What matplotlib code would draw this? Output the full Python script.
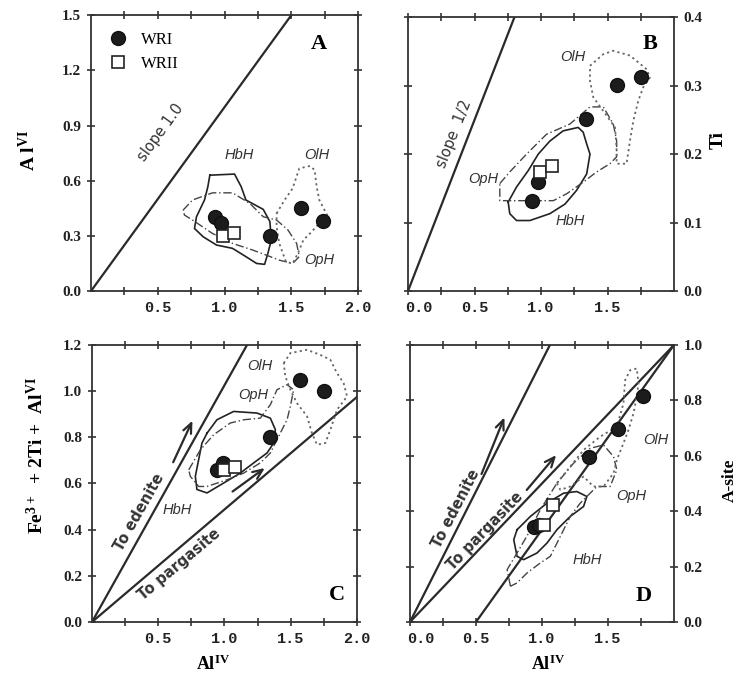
import numpy as np
import matplotlib
matplotlib.use('Agg')
import matplotlib.pyplot as plt
from matplotlib.transforms import ScaledTranslation

plt.rcParams['font.family'] = ['Liberation Serif', 'DejaVu Serif']
plt.rcParams['mathtext.fontset'] = 'custom'
plt.rcParams['mathtext.rm'] = 'Liberation Serif:bold'
plt.rcParams['mathtext.bf'] = 'Liberation Serif:bold'
plt.rcParams['mathtext.default'] = 'rm'
plt.rcParams['axes.linewidth'] = 1.3

# ---- data ----
# panel A: Al(IV) vs Al(VI)
wr1_a_x = [0.93, 0.975, 1.34, 1.57, 1.74]
wr1_a_y = [0.40, 0.37, 0.30, 0.45, 0.38]
wr2_a_x = [0.99, 1.07]
wr2_a_y = [0.30, 0.315]
hbh_a = [(0.89, 0.63), (1.075, 0.636), (1.125, 0.567), (1.16, 0.495), (1.29, 0.444),
         (1.34, 0.377), (1.35, 0.277), (1.325, 0.205), (1.30, 0.145), (1.24, 0.15),
         (1.16, 0.187), (1.06, 0.232), (0.94, 0.25), (0.84, 0.295), (0.775, 0.34),
         (0.79, 0.404), (0.85, 0.495), (0.875, 0.567)]
oph_a = [(0.69, 0.44), (0.76, 0.495), (0.91, 0.534), (1.06, 0.534), (1.19, 0.476),
         (1.29, 0.404), (1.39, 0.386), (1.475, 0.332), (1.54, 0.259), (1.56, 0.187),
         (1.51, 0.15), (1.41, 0.168), (1.31, 0.196), (1.21, 0.223), (1.06, 0.259),
         (0.91, 0.313), (0.76, 0.386), (0.70, 0.413)]
olh_a = [(1.39, 0.422), (1.45, 0.495), (1.51, 0.558), (1.56, 0.667), (1.64, 0.68),
         (1.675, 0.658), (1.69, 0.567), (1.71, 0.495), (1.775, 0.404), (1.71, 0.368),
         (1.64, 0.313), (1.59, 0.277), (1.55, 0.205), (1.51, 0.15), (1.46, 0.159),
         (1.41, 0.259), (1.39, 0.35)]
slope1_x = [0.0, 1.5]
slope1_y = [0.0, 1.5]

# panel B: Al(IV) vs Ti
wr1_b_x = [0.935, 0.98, 1.34, 1.57, 1.75]
wr1_b_y = [0.132, 0.16, 0.252, 0.301, 0.312]
wr2_b_x = [0.995, 1.085]
wr2_b_y = [0.174, 0.183]
hbh_b = [(0.753, 0.130), (0.816, 0.152), (0.904, 0.176), (0.979, 0.200), (1.066, 0.219),
         (1.166, 0.234), (1.279, 0.239), (1.317, 0.232), (1.343, 0.215), (1.368, 0.200),
         (1.343, 0.171), (1.267, 0.147), (1.18, 0.127), (1.066, 0.113), (0.916, 0.103),
         (0.816, 0.103), (0.765, 0.113)]
oph_b = [(0.69, 0.157), (0.765, 0.174), (0.891, 0.2), (1.041, 0.229), (1.217, 0.244),
         (1.368, 0.269), (1.468, 0.269), (1.543, 0.244), (1.568, 0.22), (1.568, 0.196),
         (1.518, 0.186), (1.418, 0.174), (1.317, 0.159), (1.192, 0.142), (1.092, 0.132),
         (0.941, 0.132), (0.816, 0.132), (0.69, 0.132)]
olh_b = [(1.368, 0.329), (1.468, 0.346), (1.543, 0.351), (1.669, 0.344), (1.794, 0.324),
         (1.819, 0.312), (1.769, 0.298), (1.731, 0.278), (1.694, 0.249), (1.669, 0.22),
         (1.643, 0.186), (1.568, 0.186), (1.568, 0.210), (1.556, 0.239), (1.468, 0.263),
         (1.393, 0.283), (1.368, 0.307)]
slope_half_x = [0.0, 0.8]
slope_half_y = [0.0, 0.4]

# panel C: Al(IV) vs Fe3+ + 2Ti + Al(VI)
wr1_c_x = [0.94, 0.99, 1.345, 1.572, 1.748]
wr1_c_y = [0.66, 0.69, 0.80, 1.05, 1.0]
wr2_c_x = [1.0, 1.08]
wr2_c_y = [0.66, 0.67]
hbh_c = [(0.868, 0.818), (0.943, 0.876), (1.069, 0.912), (1.245, 0.905), (1.346, 0.883),
         (1.384, 0.833), (1.371, 0.775), (1.321, 0.732), (1.220, 0.689), (1.119, 0.645),
         (0.994, 0.602), (0.868, 0.559), (0.792, 0.574), (0.780, 0.631), (0.805, 0.703),
         (0.830, 0.775)]
oph_c = [(0.73, 0.659), (0.818, 0.746), (0.918, 0.811), (1.044, 0.862), (1.145, 0.876),
         (1.27, 0.883), (1.346, 0.941), (1.396, 1.006), (1.472, 1.028), (1.522, 1.006),
         (1.497, 0.934), (1.472, 0.876), (1.421, 0.818), (1.346, 0.732), (1.27, 0.689),
         (1.145, 0.645), (1.019, 0.616), (0.868, 0.587), (0.805, 0.587), (0.742, 0.631)]
olh_c = [(1.447, 1.121), (1.497, 1.165), (1.623, 1.179), (1.723, 1.157), (1.799, 1.136),
         (1.849, 1.078), (1.899, 1.035), (1.925, 0.977), (1.849, 0.919), (1.799, 0.833),
         (1.761, 0.775), (1.698, 0.768), (1.66, 0.818), (1.623, 0.891), (1.547, 0.948),
         (1.497, 1.006), (1.459, 1.064)]
edenite_c_x = [0.0, 1.17]
edenite_c_y = [0.0, 1.2]
pargasite_c_x = [0.0, 2.0]
pargasite_c_y = [0.0, 0.975]

# panel D: Al(IV) vs A-site
wr1_d_x = [0.937, 0.98, 1.353, 1.579, 1.768]
wr1_d_y = [0.343, 0.35, 0.594, 0.697, 0.816]
wr2_d_x = [1.013, 1.083]
wr2_d_y = [0.351, 0.421]
hbh_d = [(0.811, 0.333), (0.912, 0.381), (1.038, 0.429), (1.164, 0.465), (1.264, 0.471),
         (1.340, 0.453), (1.315, 0.417), (1.214, 0.381), (1.113, 0.333), (1.038, 0.285),
         (0.962, 0.249), (0.861, 0.225), (0.811, 0.237), (0.786, 0.297)]
oph_d = [(0.761, 0.129), (0.736, 0.189), (0.811, 0.249), (0.899, 0.321), (0.987, 0.405),
         (1.113, 0.501), (1.239, 0.573), (1.365, 0.627), (1.466, 0.639), (1.542, 0.597),
         (1.567, 0.549), (1.516, 0.489), (1.416, 0.489), (1.365, 0.465), (1.290, 0.429),
         (1.214, 0.381), (1.139, 0.309), (1.063, 0.237), (0.987, 0.213), (0.887, 0.177),
         (0.811, 0.141)]
olh_d = [(1.113, 0.501), (1.214, 0.561), (1.315, 0.621), (1.441, 0.669), (1.567, 0.705),
         (1.617, 0.789), (1.63, 0.873), (1.668, 0.909), (1.718, 0.915), (1.731, 0.861),
         (1.718, 0.813), (1.693, 0.753), (1.655, 0.693), (1.617, 0.645), (1.567, 0.585),
         (1.542, 0.537), (1.466, 0.489), (1.390, 0.489), (1.315, 0.525), (1.214, 0.489),
         (1.139, 0.477)]
edenite_d_x = [0.0, 1.06]
edenite_d_y = [0.0, 1.0]
pargasite_d_x = [0.0, 2.0]
pargasite_d_y = [0.0, 1.0]
third_d_x = [0.5, 2.0]
third_d_y = [0.0, 1.0]

xtick_pos = [0.25, 0.5, 0.75, 1.0, 1.25, 1.5, 1.75, 2.0]
xtick_lab_ac = ['', '0.5', '', '1.0', '', '1.5', '', '2.0']
xtick_pos_bd = [0.0, 0.25, 0.5, 0.75, 1.0, 1.25, 1.5, 1.75]
xtick_lab_bd = ['0.0', '', '0.5', '', '1.0', '', '1.5', '']

LINE = '#2a2a2a'
MONO = {'family': 'Liberation Mono', 'weight': 'bold', 'size': 11}
SANS = ['DejaVu Sans']
ARROW = dict(arrowstyle='->,head_length=0.7,head_width=0.3', lw=1.6, color=LINE)


def draw_poly(ax, pts, ls, color, lw):
    xy = np.array(pts + [pts[0]])
    ax.plot(xy[:, 0], xy[:, 1], linestyle=ls, color=color, linewidth=lw, zorder=2)


def setup(ax, ymax, ystep, xpos, xlab, yright=False):
    ax.set_xlim(0, 2.0)
    ax.set_ylim(0, ymax)
    ax.set_xticks(xpos)
    ax.set_xticklabels(xlab, fontdict=MONO)
    yt = np.round(np.arange(0, ymax + 1e-9, ystep), 2)
    ax.set_yticks(yt)
    ax.set_yticklabels(['%.1f' % v for v in yt], fontsize=11, fontweight='bold')
    ax.tick_params(direction='inout', length=6, width=1.1, top=True, right=True,
                   pad=4, colors='#222222')
    if yright:
        ax.tick_params(labelleft=False, labelright=True)
        # the first label ("0.0") sits a little right of its tick in the original
        lab = ax.get_xticklabels()[0]
        lab.set_transform(lab.get_transform() + ScaledTranslation(8 / 72, 0, fig.dpi_scale_trans))
    for s in ax.spines.values():
        s.set_color('#333333')


def regions(ax, hbh, oph, olh):
    draw_poly(ax, hbh, '-', '#222222', 1.2)
    draw_poly(ax, oph, (0, (6, 2, 1, 2)), '#444444', 1.0)
    draw_poly(ax, olh, (0, (1.2, 1.8)), '#666666', 1.3)


def points(ax, x1, y1, x2, y2):
    h1, = ax.plot(x1, y1, 'o', ms=10, color='#1c1c1c', mec='#111111', zorder=4,
                  linestyle='none', label='WRI')
    h2, = ax.plot(x2, y2, 's', ms=8.5, mfc='white', mec='#222222', mew=1.2, zorder=5,
                  linestyle='none', label='WRII')
    return h1, h2


def region_label(ax, x, y, s):
    ax.text(x, y, s, fontsize=10.5, style='italic', family=['Liberation Sans'],
            color='#333333', ha='center', va='center')


def line_label(ax, x, y, s, rot, weight='bold'):
    ax.text(x, y, s, rotation=rot, family=SANS, fontsize=10.5, fontweight=weight,
            color='#333333', ha='center', va='center', rotation_mode='anchor')


fig = plt.figure(figsize=(7.37, 6.76), dpi=100)
axA = fig.add_axes([0.1235, 0.5695, 0.3623, 0.408])
axB = fig.add_axes([0.5536, 0.5695, 0.3610, 0.405])
axC = fig.add_axes([0.1248, 0.0799, 0.3596, 0.4098])
axD = fig.add_axes([0.5563, 0.0799, 0.3582, 0.4098])

# A
setup(axA, 1.5, 0.3, xtick_pos, xtick_lab_ac)
axA.plot(slope1_x, slope1_y, color=LINE, lw=1.6, zorder=1)
regions(axA, hbh_a, oph_a, olh_a)
h1, h2 = points(axA, wr1_a_x, wr1_a_y, wr2_a_x, wr2_a_y)
axA.legend(handles=[h1, h2], loc='upper left', frameon=False, fontsize=12,
           handletextpad=0.8, labelspacing=0.5, borderaxespad=0.6, handlelength=1.2)
line_label(axA, 0.525, 0.86, 'slope 1.0', 54, weight='normal')
region_label(axA, 1.11, 0.74, 'HbH')
region_label(axA, 1.69, 0.74, 'OlH')
region_label(axA, 1.71, 0.17, 'OpH')
axA.text(1.71, 1.345, 'A', fontsize=16, fontweight='bold', ha='center', va='center')

# B
setup(axB, 0.4, 0.1, xtick_pos_bd, xtick_lab_bd, yright=True)
axB.plot(slope_half_x, slope_half_y, color=LINE, lw=1.6, zorder=1)
regions(axB, hbh_b, oph_b, olh_b)
points(axB, wr1_b_x, wr1_b_y, wr2_b_x, wr2_b_y)
line_label(axB, 0.35, 0.23, 'slope  1/2', 68.5, weight='normal')
region_label(axB, 1.24, 0.342, 'OlH')
region_label(axB, 0.565, 0.164, 'OpH')
region_label(axB, 1.22, 0.103, 'HbH')
axB.text(1.82, 0.361, 'B', fontsize=16, fontweight='bold', ha='center', va='center')

# C
setup(axC, 1.2, 0.2, xtick_pos, xtick_lab_ac)
axC.plot(edenite_c_x, edenite_c_y, color=LINE, lw=1.6, zorder=1)
axC.plot(pargasite_c_x, pargasite_c_y, color=LINE, lw=1.6, zorder=1)
regions(axC, hbh_c, oph_c, olh_c)
points(axC, wr1_c_x, wr1_c_y, wr2_c_x, wr2_c_y)
axC.annotate('', xy=(0.767, 0.883), xytext=(0.604, 0.681), arrowprops=ARROW)
axC.annotate('', xy=(1.321, 0.674), xytext=(1.044, 0.558), arrowprops=ARROW)
line_label(axC, 0.355, 0.477, 'To edenite', 60.5)
line_label(axC, 0.66, 0.25, 'To pargasite', 40)
region_label(axC, 0.64, 0.485, 'HbH')
region_label(axC, 1.22, 0.985, 'OpH')
region_label(axC, 1.27, 1.107, 'OlH')
axC.text(1.85, 0.118, 'C', fontsize=16, fontweight='bold', ha='center', va='center')

# D
setup(axD, 1.0, 0.2, xtick_pos_bd, xtick_lab_bd, yright=True)
axD.plot(edenite_d_x, edenite_d_y, color=LINE, lw=1.6, zorder=1)
axD.plot(pargasite_d_x, pargasite_d_y, color=LINE, lw=1.6, zorder=1)
axD.plot(third_d_x, third_d_y, color=LINE, lw=1.6, zorder=1)
regions(axD, hbh_d, oph_d, olh_d)
points(axD, wr1_d_x, wr1_d_y, wr2_d_x, wr2_d_y)
axD.annotate('', xy=(0.723, 0.748), xytext=(0.534, 0.525), arrowprops=ARROW)
axD.annotate('', xy=(1.121, 0.610), xytext=(0.871, 0.469), arrowprops=ARROW)
line_label(axD, 0.35, 0.41, 'To edenite', 62.5)
line_label(axD, 0.57, 0.33, 'To pargasite', 46)
region_label(axD, 1.34, 0.225, 'HbH')
region_label(axD, 1.68, 0.453, 'OpH')
region_label(axD, 1.86, 0.657, 'OlH')
axD.text(1.77, 0.093, 'D', fontsize=16, fontweight='bold', ha='center', va='center')

# axis titles
fig.text(28 / 737, 1 - 150 / 676, r'A l$^{\mathregular{VI}}$', rotation=90, fontsize=14,
         fontweight='bold', ha='center', va='center')
fig.text(718 / 737, 1 - 140 / 676, 'Ti', rotation=90, fontsize=14,
         fontweight='bold', ha='center', va='center')
fig.text(36 / 737, 1 - 455 / 676,
         r'Fe$^{\mathregular{3+}}$  + 2Ti +  Al$^{\mathregular{VI}}$', rotation=90,
         fontsize=14, fontweight='bold', ha='center', va='center')
fig.text(730 / 737, 1 - 480 / 676, 'A-site', rotation=90, fontsize=12.5,
         fontweight='bold', ha='center', va='center')
fig.text(213 / 737, 1 - 664 / 676, r'Al$^{\mathregular{IV}}$', fontsize=13,
         fontweight='bold', ha='center', va='center')
fig.text(548 / 737, 1 - 664 / 676, r'Al$^{\mathregular{IV}}$', fontsize=13,
         fontweight='bold', ha='center', va='center')

fig.savefig('out.png', dpi=100)
